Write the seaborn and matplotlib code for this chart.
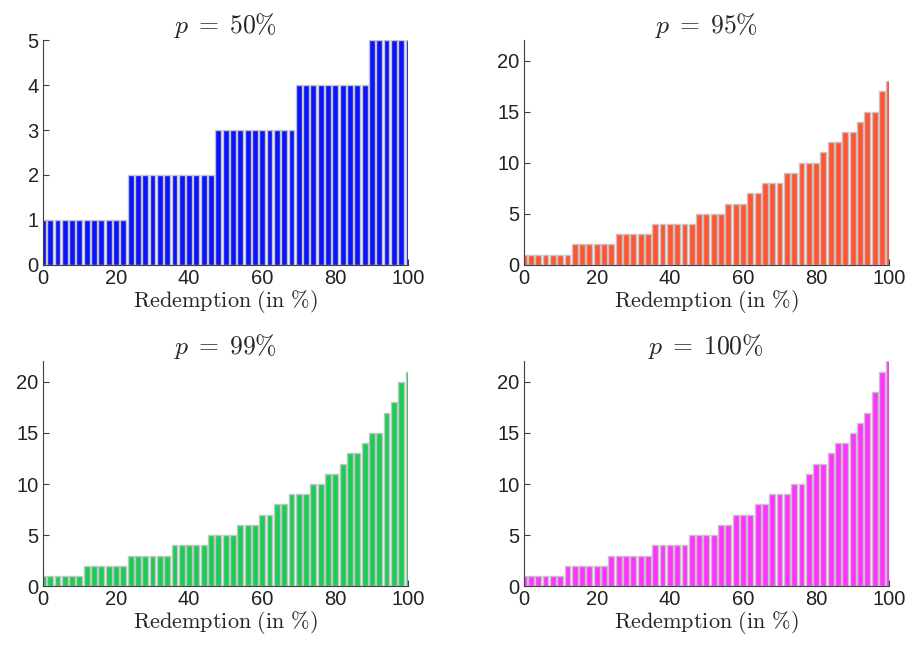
import numpy as np
import pandas as pd
import matplotlib
matplotlib.use('Agg')
import matplotlib.pyplot as plt
import seaborn as sns

# redemption grid (in %)
redemption = list(range(0, 101, 2))

# bar heights
runs_50 = [(1, 12), (2, 12), (3, 11), (4, 10), (5, 6)]
runs_95 = [(1, 7), (2, 6), (3, 5), (4, 6), (5, 4), (6, 3), (7, 2), (8, 3), (9, 2),
           (10, 3), (11, 1), (12, 2), (13, 2), (14, 1), (15, 2), (17, 1), (18, 1)]
runs_99 = [(1, 6), (2, 6), (3, 6), (4, 5), (5, 4), (6, 3), (7, 2), (8, 2), (9, 3),
           (10, 2), (11, 2), (12, 1), (13, 2), (14, 1), (15, 2), (17, 1), (18, 1),
           (20, 1), (21, 1)]
runs_100 = [(1, 6), (2, 6), (3, 6), (4, 5), (5, 4), (6, 2), (7, 3), (8, 2), (9, 3),
            (10, 2), (11, 1), (12, 2), (13, 1), (14, 2), (15, 1), (16, 1), (17, 1),
            (19, 1), (21, 1), (22, 1)]

panel_titles = [r'$p\;=\;50\%$', r'$p\;=\;95\%$', r'$p\;=\;99\%$', r'$p\;=\;100\%$']
panel_colors = ['#0a14ff', '#ff5533', '#1ccc55', '#ff33ff']


def expand(runs):
    # turn (value, count) runs into one height per bar
    out = []
    for v, n in runs:
        out += [v] * n
    return out


heights = [expand(r) for r in (runs_50, runs_95, runs_99, runs_100)]

sns.set_style('ticks')
plt.rcParams['mathtext.fontset'] = 'cm'
plt.rcParams['font.family'] = ['Liberation Sans', 'DejaVu Sans']

fig, axes = plt.subplots(2, 2, figsize=(9.12, 6.47), dpi=100)
fig.subplots_adjust(left=0.047, right=0.975, top=0.938, bottom=0.094,
                    wspace=0.315, hspace=0.43)

for ax, h, title, col in zip(axes.flat, heights, panel_titles, panel_colors):
    df = pd.DataFrame({'x': redemption, 'y': h})
    sns.barplot(data=df, x='x', y='y', native_scale=True, color=col,
                saturation=1, width=0.8, edgecolor='#c4c4c4', linewidth=1.0, ax=ax)
    ax.set_xlim(0, 100)
    ax.set_xticks([0, 20, 40, 60, 80, 100])
    ax.set_title(title, fontsize=18.5, pad=4)
    ax.set_xlabel(r'$\mathrm{Redemption\ (in\ \%)}$', fontsize=16, labelpad=0)
    ax.set_ylabel('')
    ax.tick_params(direction='in', labelsize=14.5, color='#404040',
                   labelcolor='#222222', length=4, pad=3)
    for s in ('left', 'bottom'):
        ax.spines[s].set_color('#404040')
    sns.despine(ax=ax)

axes[0, 0].set_ylim(0, 5)
axes[0, 0].set_yticks(range(0, 6))
for ax in axes.flat[1:]:
    ax.set_ylim(0, 22)
    ax.set_yticks([0, 5, 10, 15, 20])

fig.savefig('out.png', dpi=100)
